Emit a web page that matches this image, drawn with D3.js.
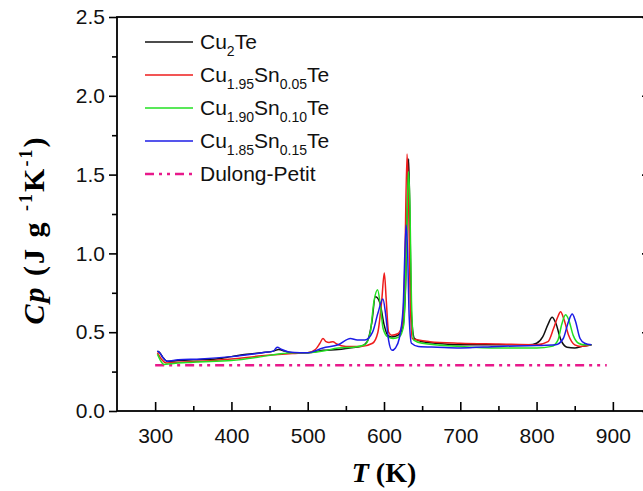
<!DOCTYPE html>
<html>
<head>
<meta charset="utf-8">
<script src="https://cdn.jsdelivr.net/npm/d3@7"></script>
<style>
  body { margin: 0; background: #fff; }
  svg { display: block; }
</style>
</head>
<body>
<div id="chart"></div>
<script>
// heat capacity data (T in K, Cp in J g-1 K-1)
const tCu2Te = [303, 306, 310, 316, 330, 350, 380, 400, 420, 440, 455, 462, 470, 480, 500, 520, 540, 555, 570, 578, 584, 588.6, 591, 595, 600, 605, 610, 618, 624, 628, 630.5, 632.3, 634, 636, 640, 650, 670, 700, 750, 790, 800, 808, 815, 820.4, 825, 832, 840, 850, 860, 872];
const cpCu2Te = [0.38, 0.37, 0.34, 0.315, 0.32, 0.325, 0.33, 0.345, 0.36, 0.37, 0.38, 0.39, 0.38, 0.37, 0.37, 0.385, 0.39, 0.40, 0.41, 0.44, 0.56, 0.725, 0.72, 0.68, 0.55, 0.48, 0.47, 0.48, 0.52, 0.75, 1.3, 1.60, 1.2, 0.6, 0.46, 0.44, 0.43, 0.42, 0.42, 0.42, 0.43, 0.47, 0.55, 0.595, 0.56, 0.45, 0.405, 0.40, 0.41, 0.42];

const tSn005 = [303, 308, 315, 330, 360, 400, 440, 480, 500, 510, 516, 520, 524, 528, 533, 538, 550, 570, 585, 592, 597, 600.4, 603, 606, 610, 618, 624, 627, 630.2, 632, 634, 637, 645, 660, 700, 750, 800, 815, 822, 828, 831.4, 836, 842, 850, 858, 872];
const cpSn005 = [0.37, 0.33, 0.305, 0.31, 0.315, 0.33, 0.35, 0.365, 0.37, 0.39, 0.43, 0.46, 0.44, 0.435, 0.44, 0.425, 0.41, 0.41, 0.43, 0.50, 0.70, 0.875, 0.70, 0.50, 0.48, 0.49, 0.55, 0.85, 1.63, 1.4, 0.8, 0.46, 0.45, 0.44, 0.43, 0.425, 0.42, 0.44, 0.52, 0.60, 0.63, 0.58, 0.48, 0.42, 0.41, 0.42];

const tSn010 = [303, 307, 312, 320, 350, 400, 440, 460, 480, 500, 520, 540, 560, 575, 582, 587, 591.6, 595, 599, 605, 612, 620, 626, 629, 632, 634, 636, 639, 650, 700, 750, 800, 820, 828, 833, 838, 842, 848, 855, 862, 872];
const cpSn010 = [0.36, 0.32, 0.295, 0.30, 0.31, 0.32, 0.345, 0.36, 0.37, 0.37, 0.38, 0.40, 0.405, 0.42, 0.50, 0.70, 0.77, 0.68, 0.52, 0.47, 0.46, 0.47, 0.55, 0.95, 1.52, 1.3, 0.7, 0.45, 0.43, 0.41, 0.40, 0.40, 0.41, 0.45, 0.55, 0.61, 0.58, 0.48, 0.43, 0.42, 0.42];

const tSn015 = [303, 306, 310, 316, 330, 360, 400, 440, 455, 460, 466, 475, 490, 500, 520, 540, 556, 565, 575, 585, 592, 598.6, 602, 606, 610.5, 615, 620, 625, 629, 631, 633, 636, 645, 670, 700, 750, 800, 825, 835, 842, 846.7, 851, 857, 863, 872];
const cpSn015 = [0.38, 0.37, 0.34, 0.315, 0.325, 0.33, 0.345, 0.37, 0.38, 0.405, 0.39, 0.375, 0.37, 0.37, 0.40, 0.42, 0.46, 0.45, 0.45, 0.50, 0.62, 0.71, 0.62, 0.45, 0.385, 0.40, 0.46, 0.65, 1.18, 1.0, 0.6, 0.43, 0.41, 0.405, 0.40, 0.41, 0.415, 0.42, 0.46, 0.57, 0.615, 0.57, 0.46, 0.43, 0.42];

const tDulong = [300, 892];
const cpDulong = [0.29, 0.29];

const xTicks = [300, 400, 500, 600, 700, 800, 900];
const xMinor = [350, 450, 550, 650, 750, 850];
const yTicks = [0, 0.5, 1.0, 1.5, 2.0, 2.5];
const yMinor = [0.25, 0.75, 1.25, 1.75, 2.25];

const series = [
  { name: [["Cu"], ["2", "sub"], ["Te"]], t: tCu2Te, cp: cpCu2Te, color: "#111111" },
  { name: [["Cu"], ["1.95", "sub"], ["Sn"], ["0.05", "sub"], ["Te"]], t: tSn005, cp: cpSn005, color: "#ee1c1c" },
  { name: [["Cu"], ["1.90", "sub"], ["Sn"], ["0.10", "sub"], ["Te"]], t: tSn010, cp: cpSn010, color: "#22e022" },
  { name: [["Cu"], ["1.85", "sub"], ["Sn"], ["0.15", "sub"], ["Te"]], t: tSn015, cp: cpSn015, color: "#1c1ce6" }
];

const width = 643, height = 491;
const margin = { top: 17, left: 117, right: -8, bottom: 80 };
const pw = width - margin.left - margin.right;   // plot runs past the right edge
const ph = height - margin.top - margin.bottom;

const svg = d3.select("#chart").append("svg")
  .attr("width", width)
  .attr("height", height);

const x = d3.scaleLinear().domain([250, 950]).range([0, pw]);
const y = d3.scaleLinear().domain([0, 2.5]).range([ph, 0]);

const g = svg.append("g").attr("transform", `translate(${margin.left},${margin.top})`);

const dashDot = "9,5,3,5,3,5";
const magenta = "#e8198b";

// Dulong-Petit limit
g.append("path")
  .datum(tDulong.map((t, i) => [t, cpDulong[i]]))
  .attr("d", d3.line().x(d => x(d[0])).y(d => y(d[1])))
  .attr("fill", "none")
  .attr("stroke", magenta)
  .attr("stroke-width", 2.4)
  .attr("stroke-dasharray", dashDot);

const line = d3.line()
  .x(d => x(d[0]))
  .y(d => y(d[1]))
  .curve(d3.curveMonotoneX);

series.forEach(s => {
  g.append("path")
    .datum(s.t.map((t, i) => [t, s.cp[i]]))
    .attr("d", line)
    .attr("fill", "none")
    .attr("stroke", s.color)
    .attr("stroke-width", 1.5)
    .attr("stroke-linejoin", "round");
});

// axes
const tickFont = "'Liberation Sans', Arial, sans-serif";

g.append("g")
  .attr("transform", `translate(0,${ph})`)
  .call(d3.axisBottom(x).tickValues(xTicks).tickSize(-9).tickPadding(17).tickFormat(d3.format("d")));
g.append("g")
  .attr("transform", `translate(0,${ph})`)
  .call(d3.axisBottom(x).tickValues(xMinor).tickSize(-5).tickFormat(""));

g.append("g")
  .call(d3.axisLeft(y).tickValues(yTicks).tickSize(8).tickPadding(4).tickFormat(d3.format(".1f")));
g.append("g")
  .call(d3.axisLeft(y).tickValues(yMinor).tickSize(5).tickFormat(""));

g.append("g")
  .attr("transform", `translate(${pw},0)`)
  .call(d3.axisRight(y).tickValues(yTicks).tickSize(-9).tickFormat(""));

g.selectAll(".domain").remove();
g.selectAll(".tick line").attr("stroke", "#000").attr("stroke-width", 1.6);
g.selectAll(".tick text")
  .attr("font-family", tickFont)
  .attr("font-size", 21)
  .attr("fill", "#111");

// frame
g.append("rect")
  .attr("width", pw)
  .attr("height", ph)
  .attr("fill", "none")
  .attr("stroke", "#000")
  .attr("stroke-width", 1.8);

// axis titles
const serif = "'Liberation Serif', 'Times New Roman', serif";
svg.append("text")
  .attr("x", margin.left + pw / 2)
  .attr("y", 482)
  .attr("text-anchor", "middle")
  .attr("font-family", serif)
  .attr("font-weight", "bold")
  .attr("font-size", 28)
  .call(t => {
    t.append("tspan").attr("font-style", "italic").text("T");
    t.append("tspan").text(" (K)");
  });

const yt = svg.append("text")
  .attr("transform", "translate(44,230) rotate(-90)")
  .attr("text-anchor", "middle")
  .attr("font-family", serif)
  .attr("font-weight", "bold")
  .attr("font-size", 30)
  .attr("letter-spacing", 2);
yt.append("tspan").attr("font-style", "italic").text("Cp");
yt.append("tspan").text(" (J g ");
yt.append("tspan").attr("font-size", 18).attr("dy", -12).text("-1");
yt.append("tspan").attr("dy", 12).text("K");
yt.append("tspan").attr("font-size", 18).attr("dy", -12).text("-1");
yt.append("tspan").attr("dy", 12).text(")");

// legend
const legend = svg.append("g").attr("transform", "translate(145,42)");
const rowH = 33;
const legendItems = series.map(s => ({ name: s.name, color: s.color, dash: null }))
  .concat([{ name: [["Dulong-Petit"]], color: magenta, dash: dashDot }]);

legendItems.forEach((item, i) => {
  const row = legend.append("g").attr("transform", `translate(0,${i * rowH})`);
  row.append("line")
    .attr("x1", 0).attr("x2", 48)
    .attr("stroke", item.color)
    .attr("stroke-width", item.dash ? 2.4 : 1.5)
    .attr("stroke-dasharray", item.dash);
  const txt = row.append("text")
    .attr("x", 55)
    .attr("y", 7)
    .attr("font-family", tickFont)
    .attr("font-size", 21)
    .attr("fill", "#111");
  let shifted = false;
  item.name.forEach(([s, kind]) => {
    const sp = txt.append("tspan").text(s);
    if (kind === "sub") {
      sp.attr("font-size", 14).attr("dy", shifted ? 0 : 7);
      shifted = true;
    } else if (shifted) {
      sp.attr("dy", -7);
      shifted = false;
    }
  });
});
</script>
</body>
</html>
